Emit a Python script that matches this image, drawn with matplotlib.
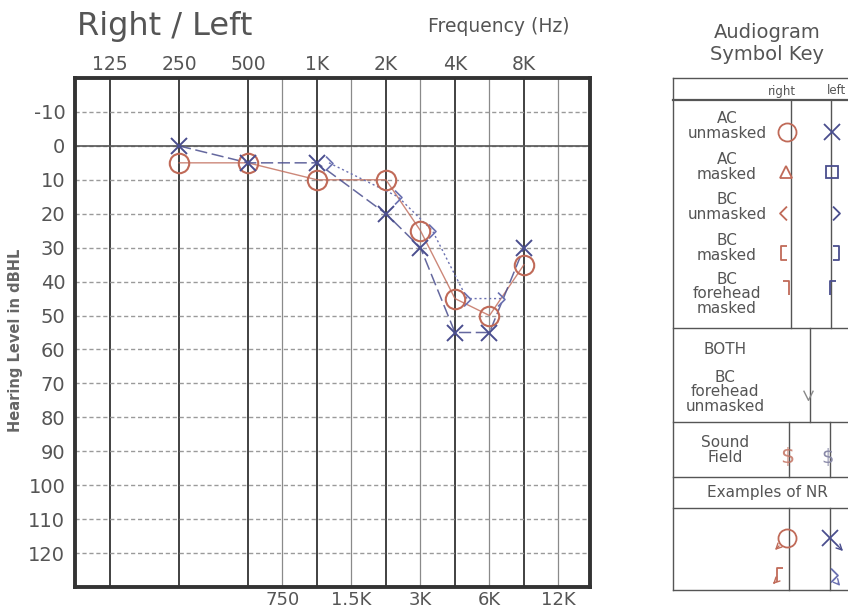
import numpy as np
import matplotlib
matplotlib.use("Agg")
import matplotlib.pyplot as plt
from matplotlib.path import Path
from matplotlib.transforms import offset_copy

# ---------------- data ----------------
freqs = [250, 500, 1000, 2000, 3000, 4000, 6000, 8000]
right_ac = [5, 5, 10, 10, 25, 45, 50, 35]        # red circles (right ear, AC unmasked)
left_ac = [0, 5, 5, 20, 30, 55, 55, 30]          # blue X (left ear, AC unmasked)
bc_freqs = [1000, 2000, 3000, 4000, 6000]
left_bc = [5, 15, 25, 45, 45]                    # blue > (left ear, BC unmasked)

octave_ticks = [125, 250, 500, 1000, 2000, 4000, 8000]
octave_labels = ["125", "250", "500", "1K", "2K", "4K", "8K"]
half_ticks = [750, 1500, 3000, 6000, 12000]
half_labels = ["750", "1.5K", "3K", "6K", "12K"]
db_ticks = list(range(-10, 121, 10))
db_labels = [str(v) for v in db_ticks]

key_rows = ["AC\nunmasked", "AC\nmasked", "BC\nunmasked", "BC\nmasked", "BC\nforehead\nmasked"]

RED = "#c06a58"
BLUE = "#4a4e8e"
LBLUE = "#6a70b0"
TXT = "#555555"
DARK = "#333333"

# audiogram frequency scale: octaves equally spaced, half-octaves at midpoints
knots_f = np.array([62.5, 125, 250, 500, 750, 1000, 1500, 2000, 3000, 4000,
                    6000, 8000, 12000, 16000])
knots_p = np.array([-1, 0, 1, 2, 2.5, 3, 3.5, 4, 4.5, 5, 5.5, 6, 6.5, 7])


def fwd(f):
    f = np.maximum(np.asarray(f, dtype=float), 1e-6)
    return np.interp(np.log2(f), np.log2(knots_f), knots_p)


def inv(p):
    return 2.0 ** np.interp(np.asarray(p, dtype=float), knots_p, np.log2(knots_f))


W, H = 848, 614
fig = plt.figure(figsize=(W / 100, H / 100), dpi=100)
fig.patch.set_facecolor("white")

ax = fig.add_axes([75 / W, 1 - 587 / H, (590 - 75) / W, (587 - 78) / H], zorder=2)
ax.set_xscale("function", functions=(fwd, inv))
ax.set_xlim(inv(-0.507), inv(6.957))
ax.set_ylim(130, -20)

ax.set_xticks(octave_ticks)
ax.set_xticklabels(octave_labels)
ax.set_xticks(half_ticks, minor=True)
ax.set_xticklabels(half_labels, minor=True)
ax.tick_params(axis="x", which="major", top=True, labeltop=True, bottom=False,
               labelbottom=False, length=0, pad=3, labelsize=13.5, labelcolor=TXT)
ax.tick_params(axis="x", which="minor", top=False, labeltop=False, bottom=True,
               labelbottom=True, length=0, pad=3, labelsize=13, labelcolor=TXT)
ax.set_yticks(db_ticks)
ax.set_yticklabels(db_labels)
ax.tick_params(axis="y", length=0, pad=7, labelsize=14, labelcolor=TXT)

ax.grid(which="major", axis="x", color=DARK, lw=1.3)
ax.grid(which="minor", axis="x", color="#8a8a8a", lw=0.9)
ax.grid(which="major", axis="y", color="#9a9a9a", lw=1.0, ls=(0, (3, 2)))
ax.axhline(0, color="#555555", lw=1.2, zorder=1)
ax.set_axisbelow(True)
for s in ax.spines.values():
    s.set_color(DARK)
    s.set_linewidth(2.8)

# data
ax.plot(freqs, right_ac, color=RED, lw=1.0, alpha=0.8, zorder=3)
ax.plot(freqs, right_ac, ls="none", marker="o", ms=14, mfc="none", mec=RED,
        mew=1.5, zorder=5)
ax.plot(freqs, left_ac, color=BLUE, lw=1.1, ls=(0, (8, 3)), alpha=0.85, zorder=3)
ax.plot(freqs, left_ac, ls="none", marker="x", ms=11, mec=BLUE, mew=1.4, zorder=5)

chev_r = Path([(-0.5, 1), (0.5, 0), (-0.5, -1)], [Path.MOVETO, Path.LINETO, Path.LINETO])
chev_l = Path([(0.5, 1), (-0.5, 0), (0.5, -1)], [Path.MOVETO, Path.LINETO, Path.LINETO])
bc_trans = offset_copy(ax.transData, fig=fig, x=12, y=0, units="dots")
ax.plot(bc_freqs, left_bc, color=LBLUE, lw=1.0, ls=(0, (1.5, 2)), marker=chev_r,
        ms=10, mfc="none", mec=LBLUE, mew=1.2, transform=bc_trans, zorder=4)

ax.set_ylabel("Hearing Level in dBHL", fontsize=10.5, fontweight="bold",
              color="#666666")
ax.yaxis.set_label_coords(-52 / 515, (587 - 340) / 509)

fig.text(77 / W, 1 - 27 / H, "Right / Left", fontsize=23, color=TXT,
         ha="left", va="center")
fig.text(499 / W, 1 - 27 / H, "Frequency (Hz)", fontsize=13.5, color=TXT,
         ha="center", va="center")

# ---------------- symbol key (pixel coordinates) ----------------
k = fig.add_axes([0, 0, 1, 1], zorder=1)
k.set_xlim(0, W)
k.set_ylim(H, 0)
k.axis("off")
k.patch.set_alpha(0)

lk = dict(color="#555555", lw=1.0)
k.text(767, 33, "Audiogram", fontsize=14, color=TXT, ha="center", va="center")
k.text(767, 55, "Symbol Key", fontsize=14, color=TXT, ha="center", va="center")
k.plot([673, 673], [78, 590], **lk)
k.plot([673, W], [78, 78], **lk)
k.plot([673, W], [100, 100], color="#555555", lw=1.6)
for yy in [328, 422, 477, 508, 590]:
    k.plot([673, W], [yy, yy], **lk)
for xx in [791, 831]:
    k.plot([xx, xx], [100, 328], **lk)
k.plot([810, 810], [328, 422], **lk)
for xx in [789, 830]:
    k.plot([xx, xx], [422, 477], **lk)
    k.plot([xx, xx], [508, 590], **lk)
k.text(782, 91, "right", fontsize=8.5, color=TXT, ha="center", va="center")
k.text(836, 91, "left", fontsize=8.5, color=TXT, ha="center", va="center")

row_y = [126, 167, 207, 248, 294]
for lab, yy in zip(key_rows, row_y):
    k.text(727, yy, lab, fontsize=11, color=TXT, ha="center", va="center",
           linespacing=0.92)

sym_y = [132, 172, 213, 253, 288]
brk_l = Path([(0.5, 1), (-0.5, 1), (-0.5, -1), (0.5, -1)],
              [Path.MOVETO, Path.LINETO, Path.LINETO, Path.LINETO])
brk_r = Path([(-0.5, 1), (0.5, 1), (0.5, -1), (-0.5, -1)],
             [Path.MOVETO, Path.LINETO, Path.LINETO, Path.LINETO])
fh_r = Path([(-0.6, 1), (0.3, 1), (0.3, -1)], [Path.MOVETO, Path.LINETO, Path.LINETO])
fh_l = Path([(0.6, 1), (-0.3, 1), (-0.3, -1)], [Path.MOVETO, Path.LINETO, Path.LINETO])
vsym = Path([(-0.5, 0.5), (0, -0.5), (0.5, 0.5)], [Path.MOVETO, Path.LINETO, Path.LINETO])
right_syms = ["o", "^", chev_l, brk_l, fh_r]
left_syms = ["x", "s", chev_r, brk_r, fh_l]
right_ms = [13, 9, 10, 10, 10]
left_ms = [11, 9, 10, 10, 10]
right_dx = [787, 786, 783, 784, 787]
left_dx = [832, 832, 836, 836, 832]
for yy, ms_, ml, sr, sl, xr, xl in zip(sym_y, right_ms, left_ms, right_syms,
                                       left_syms, right_dx, left_dx):
    k.plot([xr], [yy], marker=sr, ms=ms_, mfc="none", mec=RED, mew=1.3, ls="none")
    k.plot([xl], [yy], marker=sl, ms=ml, mfc="none", mec=BLUE, mew=1.3, ls="none")

k.text(725, 350, "BOTH", fontsize=11, color=TXT, ha="center", va="center")
k.text(725, 392, "BC\nforehead\nunmasked", fontsize=11, color=TXT, ha="center",
       va="center", linespacing=0.92)
k.plot([808], [395], marker=vsym, ms=7, mfc="none", mec="#888888", mew=1.0, ls="none")

k.text(725, 450, "Sound\nField", fontsize=11, color=TXT, ha="center", va="center",
       linespacing=0.92)
k.text(787, 457, "$", fontsize=16, color=RED, ha="center", va="center", alpha=0.8)
k.text(828, 457, "$", fontsize=14, color="#8a8aa8", ha="center", va="center")

k.text(767, 493, "Examples of NR", fontsize=11, color=TXT, ha="center", va="center")
k.plot([787], [538], marker="o", ms=13, mfc="none", mec=RED, mew=1.3, ls="none")
k.annotate("", xy=(773, 552), xytext=(781, 544),
           arrowprops=dict(arrowstyle="->", color=RED, lw=1.0))
k.plot([779], [575], marker=fh_l, ms=10, mfc="none", mec=RED, mew=1.3, ls="none")
k.annotate("", xy=(771, 586), xytext=(777, 580),
           arrowprops=dict(arrowstyle="->", color=RED, lw=1.0))
k.plot([830], [538], marker="x", ms=11, mfc="none", mec=BLUE, mew=1.3, ls="none")
k.annotate("", xy=(845, 553), xytext=(836, 544),
           arrowprops=dict(arrowstyle="->", color=BLUE, lw=1.0))
k.plot([834], [575], marker=chev_r, ms=10, mfc="none", mec=LBLUE, mew=1.3, ls="none")
k.annotate("", xy=(842, 588), xytext=(836, 581),
           arrowprops=dict(arrowstyle="->", color=LBLUE, lw=1.0))

fig.savefig("out.png", dpi=100, facecolor="white")
